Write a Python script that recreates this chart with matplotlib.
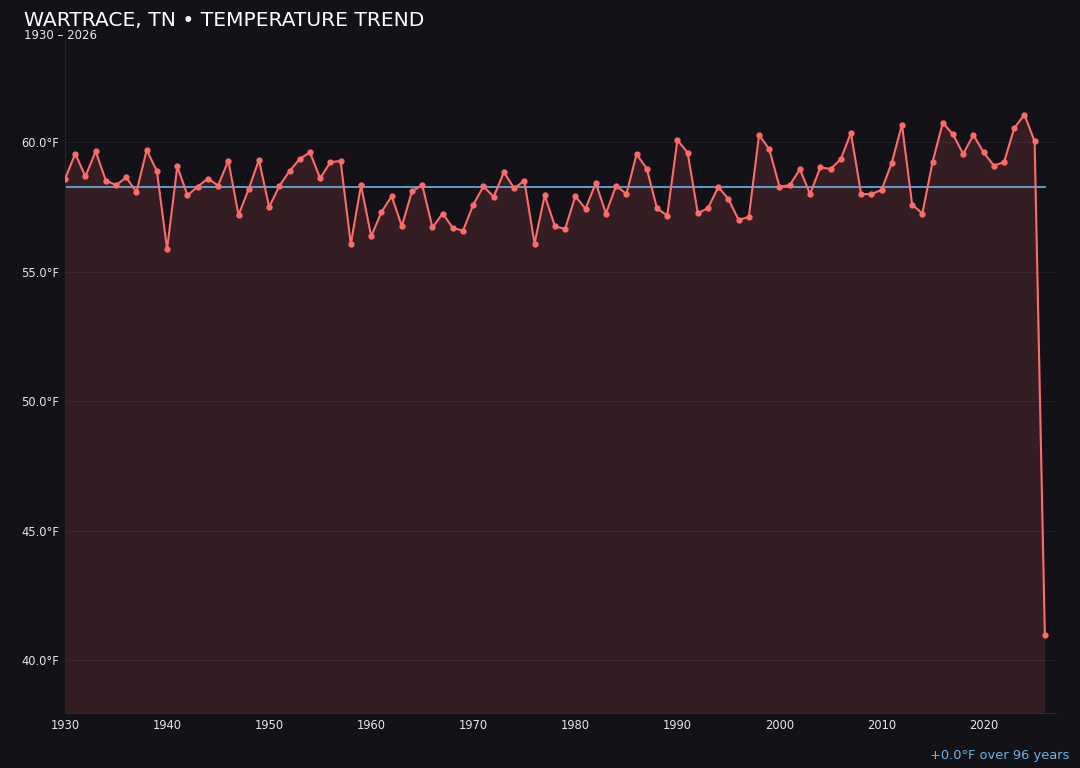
import numpy as np
import matplotlib.pyplot as plt

# annual mean temperatures, Wartrace TN
years = list(range(1930, 2027))
temps = [
    58.58, 59.56, 58.68, 59.65, 58.52, 58.35, 58.64, 58.08, 59.70, 58.89,
    55.88, 59.07, 57.95, 58.29, 58.60, 58.33, 59.29, 57.19, 58.20, 59.32,
    57.50, 58.31, 58.89, 59.36, 59.61, 58.61, 59.23, 59.28, 56.07, 58.34,
    56.37, 57.30, 57.92, 56.76, 58.11, 58.35, 56.71, 57.25, 56.69, 56.59,
    57.59, 58.30, 57.89, 58.85, 58.22, 58.52, 56.09, 57.95, 56.76, 56.65,
    57.92, 57.43, 58.43, 57.25, 58.33, 58.00, 59.54, 58.98, 57.45, 57.17,
    60.08, 59.60, 57.26, 57.46, 58.27, 57.81, 57.00, 57.12, 60.28, 59.73,
    58.29, 58.34, 58.96, 58.00, 59.03, 58.97, 59.34, 60.36, 58.00, 58.00,
    58.16, 59.20, 60.68, 57.59, 57.25, 59.24, 60.75, 60.30, 59.55, 60.28,
    59.61, 59.10, 59.23, 60.54, 61.07, 60.03, 40.97,
]
yticks = [40, 45, 50, 55, 60]
xticks = list(range(1930, 2021, 10))

BG = "#131218"
RED = "#ff6b6b"
BLUE = "#6cb4e4"
TXT = "#e6e6ea"

fig = plt.figure(figsize=(10.8, 7.68), dpi=100, facecolor=BG)
ax = fig.add_axes([0.0602, 0.071, 0.9167, 0.877])
ax.set_facecolor(BG)

x = np.array(years)
y = np.array(temps)
ylo, yhi = 37.95, 63.95

ax.fill_between(x, y, ylo, color=RED, alpha=0.14, linewidth=0, zorder=1)
ax.plot(x, y, color=RED, lw=1.5, marker="o", ms=3.5, zorder=3)
ax.plot([x[0], x[-1]], [y.mean()] * 2, color=BLUE, lw=1.2, zorder=2)

ax.set_xlim(1930, 2027)
ax.set_ylim(ylo, yhi)
ax.set_yticks(yticks)
ax.set_yticklabels([f"{v:.1f}°F" for v in yticks])
ax.set_xticks(xticks)
ax.grid(axis="y", color="#ffffff", alpha=0.05, lw=0.8)
ax.tick_params(colors=TXT, labelsize=8.3, length=0, pad=4)
for s in ["top", "right"]:
    ax.spines[s].set_visible(False)
ax.spines["left"].set_color("#26252c")
ax.spines["bottom"].set_color("#2c2b33")

fig.text(0.022, 0.973, "WARTRACE, TN • TEMPERATURE TREND", color="white",
         fontsize=14.6, va="center", ha="left")
fig.text(0.022, 0.954, "1930 – 2026", color=TXT, fontsize=8.5, va="center", ha="left")
fig.text(0.990, 0.016, "+0.0°F over 96 years", color=BLUE, fontsize=9.4,
         va="center", ha="right")

fig.savefig("out.png", dpi=100, facecolor=BG)
